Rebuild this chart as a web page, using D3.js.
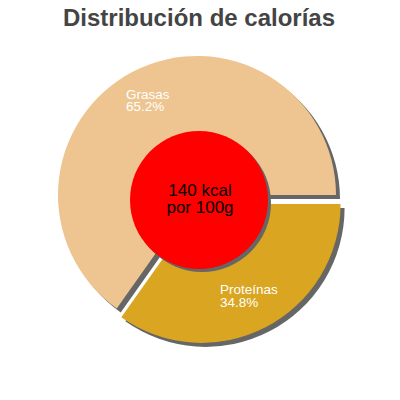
<!DOCTYPE html>
<html>
<head>
<meta charset="utf-8">
<script src="https://cdn.jsdelivr.net/npm/d3@7"></script>
<style>
  body { margin: 0; background: #fff; }
  text { font-family: "Liberation Sans", Arial, sans-serif; }
</style>
</head>
<body>
<svg id="chart" width="400" height="400"></svg>
<script>
var labels = ['Proteínas', 'Grasas'];
var values = [34.8, 65.2];
var colors = ['#DAA520', '#EEC591'];
var exploded = [true, false];
var centerLines = ['140 kcal', 'por 100g'];
var title = 'Distribución de calorías';

var cx = 197, cy = 195, radius = 139, innerR = 69;
var explode = 10, shadowDx = 4, shadowDy = 4;

var svg = d3.select('#chart');

svg.append('text')
    .attr('x', 199)
    .attr('y', 26)
    .attr('text-anchor', 'middle')
    .attr('fill', '#444')
    .style('font-size', '24px')
    .style('font-weight', 'bold')
    .text(title);

// slices start at 3 o'clock, going clockwise
var pie = d3.pie()
    .sort(null)
    .startAngle(Math.PI / 2)
    .endAngle(Math.PI / 2 + 2 * Math.PI);

var arcs = pie(values);
var arc = d3.arc().innerRadius(0).outerRadius(radius);

function offset(d, i) {
    if (!exploded[i]) return [0, 0];
    var mid = (d.startAngle + d.endAngle) / 2;
    return [Math.sin(mid) * explode, -Math.cos(mid) * explode];
}

var g = svg.append('g').attr('transform', 'translate(' + cx + ',' + cy + ')');

// shadows
g.selectAll('.shadow')
    .data(arcs)
    .enter().append('path')
    .attr('class', 'shadow')
    .attr('fill', '#666')
    .attr('transform', function (d, i) {
        var o = offset(d, i);
        return 'translate(' + (o[0] + shadowDx) + ',' + (o[1] + shadowDy) + ')';
    })
    .attr('d', arc);

g.selectAll('.slice')
    .data(arcs)
    .enter().append('path')
    .attr('class', 'slice')
    .attr('fill', function (d, i) { return colors[i]; })
    .attr('transform', function (d, i) {
        var o = offset(d, i);
        return 'translate(' + o[0] + ',' + o[1] + ')';
    })
    .attr('d', arc);

// labels
var labelArc = d3.arc().innerRadius(105).outerRadius(105);
arcs.forEach(function (d, i) {
    var o = offset(d, i);
    var c = labelArc.centroid(d);
    var t = g.append('text')
        .attr('fill', '#fff')
        .style('font-size', '13.5px');
    t.append('tspan').text(labels[i]);
    t.append('tspan').attr('dy', 12.5).text(values[i].toFixed(1) + '%');
    var w = t.select('tspan').node().getComputedTextLength();
    var x = c[0] + o[0] - w / 2 - 1;
    var y = c[1] + o[1] - 3;
    t.attr('x', x).attr('y', y);
    t.selectAll('tspan').attr('x', x);
});

// center circle
g.append('circle')
    .attr('cx', 2 + 3).attr('cy', 5 + 3)
    .attr('r', innerR)
    .attr('fill', '#666');
g.append('circle')
    .attr('cx', 2).attr('cy', 5)
    .attr('r', innerR)
    .attr('fill', '#ff0000');

var ct = g.append('text')
    .attr('text-anchor', 'middle')
    .attr('fill', '#000')
    .style('font-size', '17px');
ct.selectAll('tspan')
    .data(centerLines)
    .enter().append('tspan')
    .attr('x', 3)
    .attr('y', function (d, i) { return 1 + i * 17; })
    .text(function (d) { return d; });
</script>
</body>
</html>
